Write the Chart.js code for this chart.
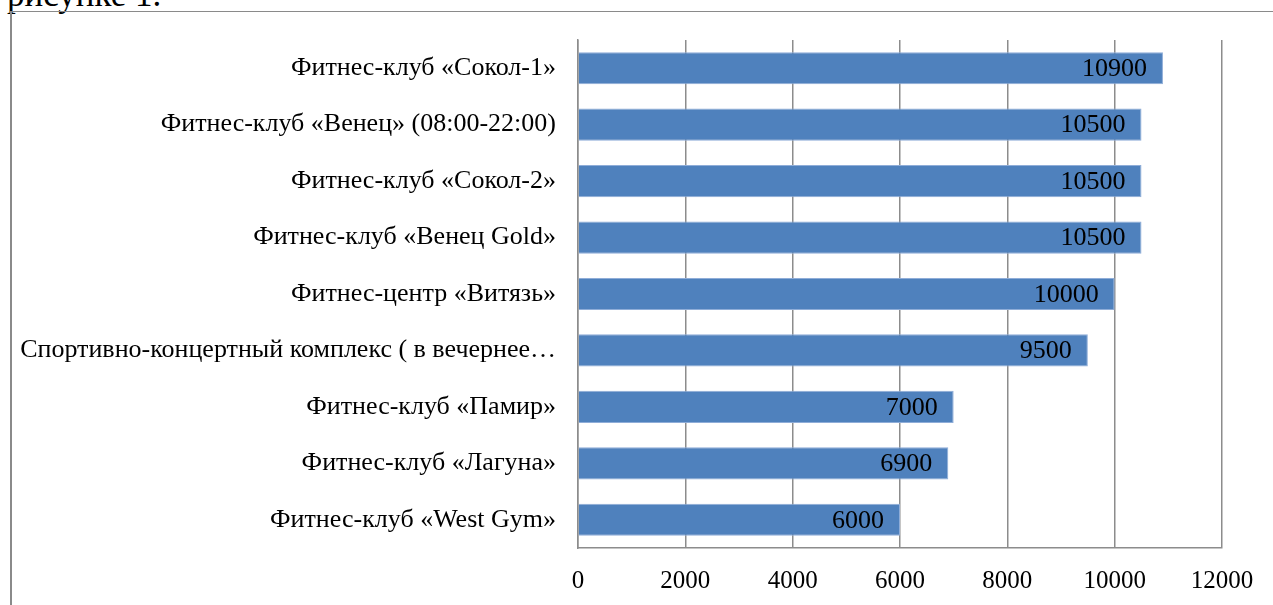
<!DOCTYPE html>
<html>
<head>
<meta charset="utf-8">
<script src="https://cdn.jsdelivr.net/npm/chart.js@4"></script>
<style>
  html, body { margin: 0; padding: 0; background: #fff; overflow: hidden; }
  #wrap { position: relative; width: 1273px; height: 605px; }
  #caption {
    position: absolute; left: 7px; top: -23px;
    font-family: "Liberation Serif", "Times New Roman", serif;
    font-size: 35px; line-height: 35px; color: #000; white-space: nowrap;
  }
  #frame {
    position: absolute; left: 10px; top: 11px; right: 0; bottom: 0;
    border-top: 1px solid #8a8a8a; border-left: 2px solid #8a8a8a;
  }
  canvas { position: absolute; left: 0; top: 0; }
</style>
</head>
<body>
<div id="wrap">
  <div id="caption">рисунке 1.</div>
  <div id="frame"></div>
  <canvas id="chart" width="1273" height="605"></canvas>
</div>
<script>
const categories = [
  "Фитнес-клуб «Сокол-1»",
  "Фитнес-клуб «Венец» (08:00-22:00)",
  "Фитнес-клуб «Сокол-2»",
  "Фитнес-клуб «Венец Gold»",
  "Фитнес-центр «Витязь»",
  "Спортивно-концертный комплекс ( в вечернее…",
  "Фитнес-клуб «Памир»",
  "Фитнес-клуб «Лагуна»",
  "Фитнес-клуб «West Gym»"
];
const prices = [10900, 10500, 10500, 10500, 10000, 9500, 7000, 6900, 6000];
const xTicks = [0, 2000, 4000, 6000, 8000, 10000, 12000];

const serif = '"Liberation Serif", "Times New Roman", serif';
const gridGrey = "#8c8c8c";

// value labels inside the end of each bar
const barLabels = {
  id: "barLabels",
  afterDatasetsDraw(chart) {
    const ctx = chart.ctx;
    const meta = chart.getDatasetMeta(0);
    ctx.save();
    ctx.font = "26px " + serif;
    ctx.fillStyle = "#000";
    ctx.textAlign = "right";
    ctx.textBaseline = "middle";
    meta.data.forEach((bar, i) => {
      ctx.fillText(String(prices[i]), bar.x - 16, bar.y + 1);
    });
    ctx.restore();
  }
};

new Chart(document.getElementById("chart"), {
  type: "bar",
  data: {
    labels: categories,
    datasets: [{
      data: prices,
      backgroundColor: "#4f81bd",
      borderColor: "#8fadd8",
      borderWidth: 1,
      barPercentage: 0.57,
      categoryPercentage: 1
    }]
  },
  options: {
    indexAxis: "y",
    responsive: false,
    animation: false,
    layout: { padding: { top: 40, right: 51, left: 0, bottom: 0 } },
    plugins: { legend: { display: false }, tooltip: { enabled: false } },
    scales: {
      x: {
        min: 0,
        max: 12000,
        afterBuildTicks: s => { s.ticks = xTicks.map(v => ({ value: v })); },
        afterFit: s => { s.height = 57; },
        grid: { color: gridGrey, lineWidth: 1.5, drawTicks: false },
        border: { color: gridGrey, width: 1.5 },
        ticks: {
          color: "#000", padding: 18, font: { family: serif, size: 25 },
          callback: v => String(v)
        }
      },
      y: {
        afterFit: s => { s.width = 578; },
        grid: { display: false, drawTicks: false },
        border: { display: true, color: gridGrey, width: 1.5 },
        ticks: { color: "#000", padding: 22, font: { family: serif, size: 26 } }
      }
    }
  },
  plugins: [barLabels]
});
</script>
</body>
</html>
